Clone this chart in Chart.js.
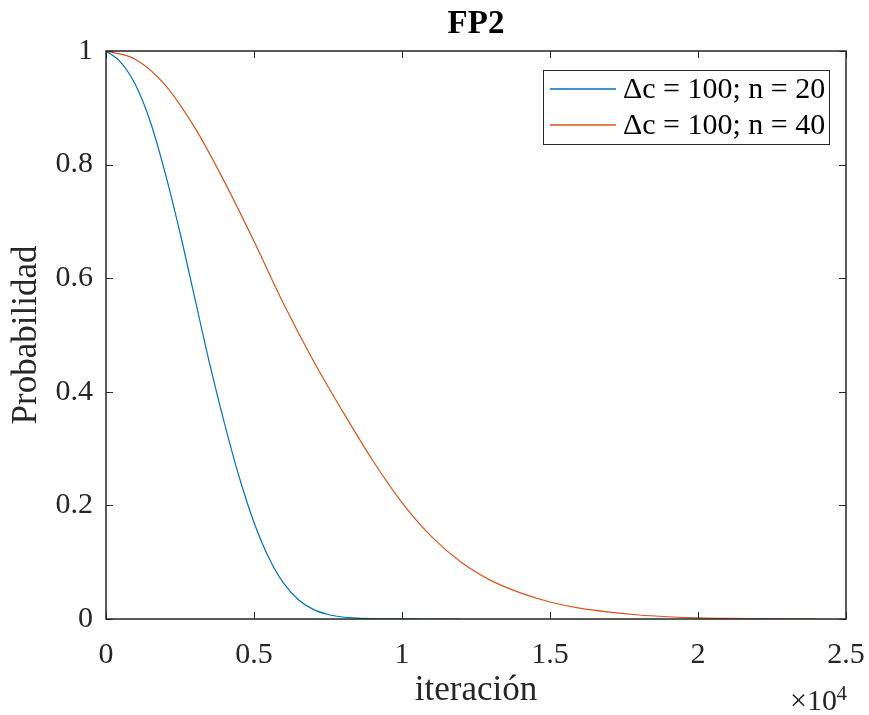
<!DOCTYPE html>
<html>
<head>
<meta charset="utf-8">
<script src="https://cdn.jsdelivr.net/npm/chart.js@4/dist/chart.umd.min.js"></script>
<style>
  body { margin: 0; background: #fff; }
</style>
</head>
<body>
<canvas id="fp2" width="869" height="715"></canvas>
<script>
// FP2 — probabilidad vs iteración
const chartTitle = 'FP2';
const xLabel = 'iteración';
const yLabel = 'Probabilidad';
const seriesNames = ['\u0394c = 100; n = 20', '\u0394c = 100; n = 40'];
const seriesColors = ['#0072BD', '#D95319'];

const iterN20 = [0, 500, 1000, 1500, 2000, 2500, 3000, 3500, 4000, 4500, 5000, 5500, 6000,
    6500, 7000, 7500, 8000, 8500, 9000, 9500, 10000, 10500, 11000, 11500, 12000];
const probN20 = [1.0, 0.98, 0.94, 0.875, 0.785, 0.68, 0.565, 0.45, 0.345, 0.25, 0.17, 0.108, 0.063,
    0.034, 0.017, 0.008, 0.0035, 0.0015, 0.0006, 0.0002, 0.0001, 0.00005, 0.00002, 0.00001, 0];

const iterN40 = [0, 1000, 2000, 3000, 4000, 5000, 6000, 7000, 8000, 9000, 10000, 11000, 12000,
    13000, 14000, 15000, 16000, 17000, 18000, 19000, 20000, 21000, 22000, 23000, 24000];
const probN40 = [1.0, 0.985, 0.94, 0.865, 0.77, 0.665, 0.555, 0.455, 0.365, 0.28, 0.205, 0.145, 0.10,
    0.068, 0.046, 0.03, 0.019, 0.012, 0.007, 0.004, 0.002, 0.001, 0.0005, 0.0002, 0.0001];

const xTicks = [0, 5000, 10000, 15000, 20000, 25000];
const yTicks = [0, 0.2, 0.4, 0.6, 0.8, 1];

const serif = '"Liberation Serif", "Times New Roman", serif';
const ink = '#262626';

const toPoints = (xs, ys) => xs.map((x, i) => ({ x, y: ys[i] }));

// box, inner ticks, title, legend box and x10^4 multiplier (MATLAB look)
const matlabFrame = {
    id: 'matlabFrame',
    afterDatasetsDraw(chart) {
        const { ctx, chartArea: a, scales } = chart;
        ctx.save();
        ctx.strokeStyle = ink;
        ctx.lineWidth = 1;
        ctx.beginPath();
        xTicks.forEach((v) => {
            const px = Math.round(scales.x.getPixelForValue(v)) + 0.5;
            ctx.moveTo(px, a.bottom); ctx.lineTo(px, a.bottom - 7);
            ctx.moveTo(px, a.top); ctx.lineTo(px, a.top + 7);
        });
        yTicks.forEach((v) => {
            const py = Math.round(scales.y.getPixelForValue(v)) + 0.5;
            ctx.moveTo(a.left, py); ctx.lineTo(a.left + 7, py);
            ctx.moveTo(a.right, py); ctx.lineTo(a.right - 7, py);
        });
        ctx.stroke();
        ctx.lineWidth = 1.5;
        ctx.strokeRect(a.left, a.top, a.right - a.left, a.bottom - a.top);

        // title
        ctx.fillStyle = '#000';
        ctx.font = 'bold 33px ' + serif;
        ctx.textAlign = 'center';
        ctx.textBaseline = 'middle';
        ctx.fillText(chartTitle, (a.left + a.right) / 2, 24);

        // legend
        const bx = 543, by = 70, bw = 286, bh = 74;
        ctx.fillStyle = '#fff';
        ctx.fillRect(bx, by, bw, bh);
        ctx.strokeStyle = ink;
        ctx.lineWidth = 1;
        ctx.strokeRect(bx + 0.5, by + 0.5, bw, bh);
        ctx.font = '30px ' + serif;
        ctx.textAlign = 'left';
        chart.data.datasets.forEach((ds, i) => {
            const yy = by + 19 + i * 36;
            ctx.strokeStyle = ds.borderColor;
            ctx.lineWidth = 1.5;
            ctx.beginPath();
            ctx.moveTo(bx + 7, yy); ctx.lineTo(bx + 73, yy);
            ctx.stroke();
            ctx.fillStyle = '#000';
            ctx.fillText(ds.label, bx + 80, yy + 1);
        });

        // x10^4
        ctx.fillStyle = ink;
        ctx.textAlign = 'right';
        ctx.textBaseline = 'alphabetic';
        ctx.font = '21px ' + serif;
        ctx.fillText('4', a.right + 1, 700);
        ctx.font = '30px ' + serif;
        ctx.fillText('\u00d710', a.right - 9, 710);
        ctx.restore();
    },
};

new Chart(document.getElementById('fp2').getContext('2d'), {
    type: 'line',
    data: {
        datasets: [
            { label: seriesNames[0], data: toPoints(iterN20, probN20), borderColor: seriesColors[0] },
            { label: seriesNames[1], data: toPoints(iterN40, probN40), borderColor: seriesColors[1] },
        ],
    },
    options: {
        responsive: false,
        animation: false,
        layout: { padding: { top: 51, right: 23, left: 0, bottom: 0 } },
        elements: {
            point: { radius: 0 },
            line: { borderWidth: 1.2, cubicInterpolationMode: 'monotone', fill: false },
        },
        plugins: { legend: { display: false }, title: { display: false }, tooltip: { enabled: false } },
        scales: {
            x: {
                type: 'linear',
                min: 0,
                max: 25000,
                afterFit: (s) => { s.height = 96; s.paddingLeft = 0; s.paddingRight = 0; },
                afterBuildTicks: (s) => { s.ticks = xTicks.map((v) => ({ value: v })); },
                grid: { display: false, drawTicks: false },
                border: { display: false },
                ticks: {
                    padding: 18,
                    color: ink,
                    font: { family: serif, size: 30 },
                    maxRotation: 0,
                    callback: (v) => String(Number((v / 10000).toFixed(1))),
                },
                title: { display: true, text: xLabel, color: ink, font: { family: serif, size: 35 }, padding: { bottom: 3 } },
            },
            y: {
                min: 0,
                max: 1,
                afterFit: (s) => { s.width = 106; s.paddingTop = 0; s.paddingBottom = 0; },
                afterBuildTicks: (s) => { s.ticks = yTicks.map((v) => ({ value: v })); },
                grid: { display: false, drawTicks: false },
                border: { display: false },
                ticks: {
                    padding: 13,
                    color: ink,
                    font: { family: serif, size: 30 },
                    callback: (v) => String(Number(v.toFixed(1))),
                },
                title: { display: true, text: yLabel, color: ink, font: { family: serif, size: 35 }, padding: { top: 6 } },
            },
        },
    },
    plugins: [matlabFrame],
});
</script>
</body>
</html>
